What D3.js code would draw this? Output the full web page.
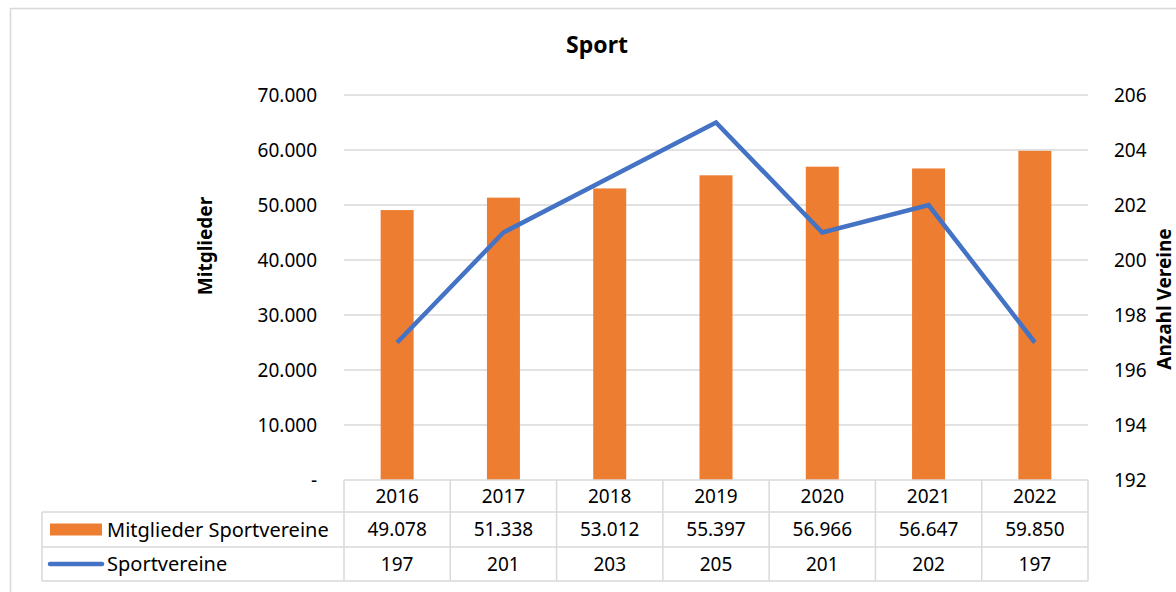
<!DOCTYPE html>
<html>
<head>
<meta charset="utf-8">
<script src="https://cdn.jsdelivr.net/npm/d3@7"></script>
<style>
  body { margin: 0; background: #fff; }
  svg text { font-family: "Noto Sans", "Open Sans", sans-serif; fill: #000; }
</style>
</head>
<body>
<svg id="chart" width="1176" height="592"></svg>
<script>
var years = ["2016", "2017", "2018", "2019", "2020", "2021", "2022"];
var mitglieder = [49078, 51338, 53012, 55397, 56966, 56647, 59850];
var vereine = [197, 201, 203, 205, 201, 202, 197];
var leftTicks = [0, 10000, 20000, 30000, 40000, 50000, 60000, 70000];
var rightTicks = [192, 194, 196, 198, 200, 202, 204, 206];
var barName = "Mitglieder Sportvereine";
var lineName = "Sportvereine";

var svg = d3.select("#chart");
var fmt = d3.formatLocale({decimal: ",", thousands: ".", grouping: [3], currency: ["", "€"]}).format(",d");

var plotL = 344, plotR = 1088, plotT = 95, plotB = 480;
var rowH = [32, 35, 34];
var fs = "19px";

// outer frame
svg.append("rect")
  .attr("x", 10.5).attr("y", 8.5)
  .attr("width", 1180).attr("height", 600)
  .attr("fill", "none").attr("stroke", "#d9d9d9").attr("stroke-width", 1.5);

var x = d3.scaleBand().domain(years).range([plotL, plotR]);
var yL = d3.scaleLinear().domain([0, 70000]).range([plotB, plotT]);
var yR = d3.scaleLinear().domain([192, 206]).range([plotB, plotT]);

// gridlines
svg.append("g").selectAll("line")
  .data(leftTicks.slice(1))
  .enter().append("line")
  .attr("x1", plotL).attr("x2", plotR)
  .attr("y1", function(d) { return yL(d); })
  .attr("y2", function(d) { return yL(d); })
  .attr("stroke", "#d9d9d9").attr("stroke-width", 1.3);

// left axis labels
svg.append("g").selectAll("text")
  .data(leftTicks)
  .enter().append("text")
  .attr("x", 317)
  .attr("y", function(d) { return yL(d); })
  .attr("dy", "0.35em")
  .attr("text-anchor", "end")
  .style("font-size", fs)
  .text(function(d) { return d === 0 ? "-" : fmt(d); });

// right axis labels
svg.append("g").selectAll("text")
  .data(rightTicks)
  .enter().append("text")
  .attr("x", 1114)
  .attr("y", function(d) { return yR(d); })
  .attr("dy", "0.35em")
  .style("font-size", fs)
  .text(function(d) { return d; });

// bars
var bw = 33;
svg.append("g").selectAll("rect")
  .data(mitglieder)
  .enter().append("rect")
  .attr("x", function(d, i) { return x(years[i]) + x.bandwidth() / 2 - bw / 2; })
  .attr("y", function(d) { return yL(d); })
  .attr("width", bw)
  .attr("height", function(d) { return plotB - yL(d); })
  .attr("fill", "#ed7d31");

// line
var line = d3.line()
  .x(function(d, i) { return x(years[i]) + x.bandwidth() / 2; })
  .y(function(d) { return yR(d); });

svg.append("path")
  .datum(vereine)
  .attr("d", line)
  .attr("fill", "none")
  .attr("stroke", "#4472c4")
  .attr("stroke-width", 4.5)
  .attr("stroke-linejoin", "miter");

// title and axis titles
svg.append("text")
  .attr("x", 597).attr("y", 53)
  .attr("text-anchor", "middle")
  .style("font-size", "23px").style("font-weight", "bold")
  .text("Sport");

svg.append("text")
  .attr("transform", "translate(212,246) rotate(-90)")
  .attr("text-anchor", "middle")
  .style("font-size", "19px").style("font-weight", "bold")
  .text("Mitglieder");

svg.append("text")
  .attr("transform", "translate(1171,299) rotate(-90)")
  .attr("text-anchor", "middle")
  .style("font-size", "19px").style("font-weight", "bold")
  .text("Anzahl Vereine");

// data table
var r0 = plotB, r1 = r0 + rowH[0], r2 = r1 + rowH[1], r3 = r2 + rowH[2];
var legLeft = 42;
var tbl = svg.append("g").attr("stroke", "#d9d9d9").attr("stroke-width", 1.5);

tbl.append("line").attr("x1", plotL).attr("x2", plotR).attr("y1", r0).attr("y2", r0);
[r1, r2, r3].forEach(function(ry) {
  tbl.append("line").attr("x1", legLeft).attr("x2", plotR).attr("y1", ry).attr("y2", ry);
});
tbl.append("line").attr("x1", legLeft).attr("x2", legLeft).attr("y1", r1).attr("y2", r3);
years.forEach(function(yr) {
  tbl.append("line").attr("x1", x(yr)).attr("x2", x(yr)).attr("y1", r0).attr("y2", r3);
});
tbl.append("line").attr("x1", plotR).attr("x2", plotR).attr("y1", r0).attr("y2", r3);

var cells = svg.append("g").style("font-size", fs).attr("text-anchor", "middle");
years.forEach(function(yr, i) {
  var cx = x(yr) + x.bandwidth() / 2;
  cells.append("text").attr("x", cx).attr("y", (r0 + r1) / 2).attr("dy", "0.35em").text(yr);
  cells.append("text").attr("x", cx).attr("y", (r1 + r2) / 2).attr("dy", "0.35em").text(fmt(mitglieder[i]));
  cells.append("text").attr("x", cx).attr("y", (r2 + r3) / 2).attr("dy", "0.35em").text(vereine[i]);
});

// legend keys inside table
svg.append("rect")
  .attr("x", 50).attr("y", (r1 + r2) / 2 - 6)
  .attr("width", 52).attr("height", 12)
  .attr("fill", "#ed7d31");
svg.append("line")
  .attr("x1", 50).attr("x2", 102)
  .attr("y1", (r2 + r3) / 2).attr("y2", (r2 + r3) / 2)
  .attr("stroke", "#4472c4").attr("stroke-width", 4.5)
  .attr("stroke-linecap", "round");
svg.append("text")
  .attr("x", 107).attr("y", (r1 + r2) / 2).attr("dy", "0.35em")
  .style("font-size", "20px")
  .text(barName);
svg.append("text")
  .attr("x", 107).attr("y", (r2 + r3) / 2).attr("dy", "0.35em")
  .style("font-size", "20px")
  .text(lineName);
</script>
</body>
</html>
